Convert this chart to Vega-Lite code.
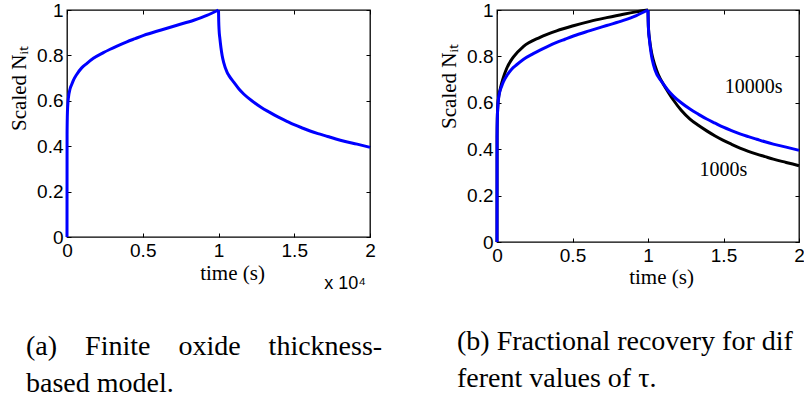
{
  "$schema": "https://vega.github.io/schema/vega-lite/v6.json",
  "padding": {"left": 7, "top": 0, "right": 0, "bottom": 0},
  "bounds": "flush",
  "spacing": 127,
  "background": "white",
  "config": {
    "view": {"stroke": "black", "strokeWidth": 1.3},
    "axis": {
      "grid": false,
      "domain": false,
      "ticks": true,
      "tickSize": -4,
      "tickColor": "black",
      "tickWidth": 1,
      "labelFont": "Liberation Sans",
      "labelFontSize": 19,
      "labelColor": "black",
      "labelFlush": false,
      "labelOverlap": false,
      "titleFont": "Liberation Serif",
      "titleFontSize": 21,
      "titleFontWeight": "normal",
      "titleColor": "black"
    },
    "title": {"font": "Liberation Serif", "fontSize": 28, "fontWeight": "normal", "color": "black"}
  },
  "datasets": {
    "blue": [
      {"t": 0, "v": 0, "phase": "rise"},
      {"t": 0.0005, "v": 0.45, "phase": "rise"},
      {"t": 0.002, "v": 0.53, "phase": "rise"},
      {"t": 0.005, "v": 0.58, "phase": "rise"},
      {"t": 0.009, "v": 0.612, "phase": "rise"},
      {"t": 0.02, "v": 0.652, "phase": "rise"},
      {"t": 0.031, "v": 0.672, "phase": "rise"},
      {"t": 0.042, "v": 0.69, "phase": "rise"},
      {"t": 0.064, "v": 0.716, "phase": "rise"},
      {"t": 0.097, "v": 0.745, "phase": "rise"},
      {"t": 0.13, "v": 0.764, "phase": "rise"},
      {"t": 0.174, "v": 0.787, "phase": "rise"},
      {"t": 0.24, "v": 0.812, "phase": "rise"},
      {"t": 0.285, "v": 0.827, "phase": "rise"},
      {"t": 0.33, "v": 0.841, "phase": "rise"},
      {"t": 0.395, "v": 0.86, "phase": "rise"},
      {"t": 0.45, "v": 0.874, "phase": "rise"},
      {"t": 0.506, "v": 0.888, "phase": "rise"},
      {"t": 0.616, "v": 0.911, "phase": "rise"},
      {"t": 0.726, "v": 0.933, "phase": "rise"},
      {"t": 0.837, "v": 0.955, "phase": "rise"},
      {"t": 0.923, "v": 0.976, "phase": "rise"},
      {"t": 1.0, "v": 1.0, "phase": "rise"},
      {"t": 1.0, "v": 1.0, "phase": "rec"},
      {"t": 1.0015, "v": 0.95, "phase": "rec"},
      {"t": 1.004, "v": 0.91, "phase": "rec"},
      {"t": 1.009, "v": 0.875, "phase": "rec"},
      {"t": 1.016, "v": 0.835, "phase": "rec"},
      {"t": 1.024, "v": 0.8, "phase": "rec"},
      {"t": 1.035, "v": 0.767, "phase": "rec"},
      {"t": 1.057, "v": 0.725, "phase": "rec"},
      {"t": 1.068, "v": 0.712, "phase": "rec"},
      {"t": 1.102, "v": 0.681, "phase": "rec"},
      {"t": 1.135, "v": 0.652, "phase": "rec"},
      {"t": 1.168, "v": 0.629, "phase": "rec"},
      {"t": 1.22, "v": 0.6, "phase": "rec"},
      {"t": 1.278, "v": 0.573, "phase": "rec"},
      {"t": 1.333, "v": 0.551, "phase": "rec"},
      {"t": 1.389, "v": 0.53, "phase": "rec"},
      {"t": 1.445, "v": 0.512, "phase": "rec"},
      {"t": 1.499, "v": 0.495, "phase": "rec"},
      {"t": 1.554, "v": 0.48, "phase": "rec"},
      {"t": 1.609, "v": 0.466, "phase": "rec"},
      {"t": 1.665, "v": 0.454, "phase": "rec"},
      {"t": 1.72, "v": 0.443, "phase": "rec"},
      {"t": 1.775, "v": 0.432, "phase": "rec"},
      {"t": 1.83, "v": 0.422, "phase": "rec"},
      {"t": 1.915, "v": 0.409, "phase": "rec"},
      {"t": 2.0, "v": 0.395, "phase": "rec"}
    ],
    "black": [
      {"t": 0, "v": 0, "phase": "rise"},
      {"t": 0.0005, "v": 0.45, "phase": "rise"},
      {"t": 0.002, "v": 0.53, "phase": "rise"},
      {"t": 0.005, "v": 0.58, "phase": "rise"},
      {"t": 0.009, "v": 0.615, "phase": "rise"},
      {"t": 0.02, "v": 0.655, "phase": "rise"},
      {"t": 0.031, "v": 0.685, "phase": "rise"},
      {"t": 0.045, "v": 0.715, "phase": "rise"},
      {"t": 0.064, "v": 0.748, "phase": "rise"},
      {"t": 0.108, "v": 0.797, "phase": "rise"},
      {"t": 0.174, "v": 0.842, "phase": "rise"},
      {"t": 0.285, "v": 0.882, "phase": "rise"},
      {"t": 0.395, "v": 0.91, "phase": "rise"},
      {"t": 0.506, "v": 0.932, "phase": "rise"},
      {"t": 0.616, "v": 0.951, "phase": "rise"},
      {"t": 0.726, "v": 0.967, "phase": "rise"},
      {"t": 0.837, "v": 0.982, "phase": "rise"},
      {"t": 0.92, "v": 0.992, "phase": "rise"},
      {"t": 1.0, "v": 1.0, "phase": "rise"},
      {"t": 1.0, "v": 1.0, "phase": "rec"},
      {"t": 1.0015, "v": 0.95, "phase": "rec"},
      {"t": 1.004, "v": 0.912, "phase": "rec"},
      {"t": 1.009, "v": 0.88, "phase": "rec"},
      {"t": 1.016, "v": 0.845, "phase": "rec"},
      {"t": 1.024, "v": 0.815, "phase": "rec"},
      {"t": 1.035, "v": 0.785, "phase": "rec"},
      {"t": 1.057, "v": 0.74, "phase": "rec"},
      {"t": 1.068, "v": 0.722, "phase": "rec"},
      {"t": 1.102, "v": 0.68, "phase": "rec"},
      {"t": 1.135, "v": 0.645, "phase": "rec"},
      {"t": 1.168, "v": 0.612, "phase": "rec"},
      {"t": 1.22, "v": 0.568, "phase": "rec"},
      {"t": 1.278, "v": 0.53, "phase": "rec"},
      {"t": 1.333, "v": 0.503, "phase": "rec"},
      {"t": 1.389, "v": 0.479, "phase": "rec"},
      {"t": 1.445, "v": 0.457, "phase": "rec"},
      {"t": 1.499, "v": 0.438, "phase": "rec"},
      {"t": 1.554, "v": 0.421, "phase": "rec"},
      {"t": 1.609, "v": 0.405, "phase": "rec"},
      {"t": 1.665, "v": 0.391, "phase": "rec"},
      {"t": 1.72, "v": 0.379, "phase": "rec"},
      {"t": 1.775, "v": 0.368, "phase": "rec"},
      {"t": 1.83, "v": 0.357, "phase": "rec"},
      {"t": 1.915, "v": 0.343, "phase": "rec"},
      {"t": 2.0, "v": 0.329, "phase": "rec"}
    ],
    "notesA": [
      {"label": "x 10⁴", "t": 1.835, "v": -0.205}
    ],
    "notesB": [
      {"label": "10000s", "t": 1.70, "v": 0.668},
      {"label": "1000s", "t": 1.50, "v": 0.31}
    ]
  },
  "hconcat": [
    {
      "width": 303,
      "height": 227,
      "title": {
        "text": ["(a)\u2003Finite\u2003oxide\u2003thickness-", "based model."],
        "orient": "bottom",
        "anchor": "start",
        "frame": "group",
        "dx": -41,
        "offset": 40,
        "lineHeight": 37
      },
      "layer": [
        {
          "data": {"name": "blue"},
          "mark": {"type": "line", "color": "#0000ff", "strokeWidth": 3, "interpolate": "monotone"},
          "encoding": {
            "x": {"field": "t", "type": "quantitative", "scale": {"domain": [0, 2], "nice": false, "zero": false},
                  "axis": {"orient": "bottom", "values": [0, 0.5, 1, 1.5, 2], "format": "~g", "title": "time (s)", "labelPadding": 8, "titleX": 165, "titleY": 42, "titleBaseline": "alphabetic"}},
            "y": {"field": "v", "type": "quantitative", "scale": {"domain": [0, 1], "nice": false},
                  "axis": {"orient": "left", "values": [0, 0.2, 0.4, 0.6, 0.8, 1], "format": "~g", "title": "Scaled Nᵢₜ", "labelPadding": 8, "titleX": -42, "titleY": 78, "titleBaseline": "alphabetic", "titleAngle": 270}},
            "detail": {"field": "phase"}
          }
        },
        {
          "data": {"name": "blue"},
          "mark": {"type": "line", "opacity": 0},
          "encoding": {
            "x": {"field": "t", "type": "quantitative", "scale": {"domain": [0, 2], "nice": false, "zero": false},
                  "axis": {"orient": "top", "values": [0, 0.5, 1, 1.5, 2], "labels": false, "title": null}},
            "y": {"field": "v", "type": "quantitative", "scale": {"domain": [0, 1], "nice": false},
                  "axis": {"orient": "right", "values": [0, 0.2, 0.4, 0.6, 0.8, 1], "labels": false, "title": null}},
            "detail": {"field": "phase"}
          }
        },
        {
          "data": {"name": "notesA"},
          "mark": {"type": "text", "font": "Liberation Sans", "fontSize": 18, "color": "black", "align": "center", "baseline": "middle"},
          "encoding": {
            "x": {"field": "t", "type": "quantitative", "axis": null},
            "y": {"field": "v", "type": "quantitative", "axis": null},
            "text": {"field": "label"}
          }
        }
      ],
      "resolve": {"axis": {"x": "independent", "y": "independent"}}
    },
    {
      "width": 302,
      "height": 232,
      "title": {
        "text": ["(b) Fractional recovery for dif", "ferent values of τ."],
        "orient": "bottom",
        "anchor": "start",
        "frame": "group",
        "dx": -40,
        "offset": 41,
        "lineHeight": 37
      },
      "layer": [
        {
          "data": {"name": "black"},
          "mark": {"type": "line", "color": "#000000", "strokeWidth": 3, "interpolate": "monotone"},
          "encoding": {
            "x": {"field": "t", "type": "quantitative", "scale": {"domain": [0, 2], "nice": false, "zero": false},
                  "axis": {"orient": "bottom", "values": [0, 0.5, 1, 1.5, 2], "format": "~g", "title": "time (s)", "labelPadding": 8, "titleX": 164, "titleY": 41, "titleBaseline": "alphabetic"}},
            "y": {"field": "v", "type": "quantitative", "scale": {"domain": [0, 1], "nice": false},
                  "axis": {"orient": "left", "values": [0, 0.2, 0.4, 0.6, 0.8, 1], "format": "~g", "title": "Scaled Nᵢₜ", "labelPadding": 8, "titleX": -42, "titleY": 76, "titleBaseline": "alphabetic", "titleAngle": 270}},
            "detail": {"field": "phase"}
          }
        },
        {
          "data": {"name": "blue"},
          "mark": {"type": "line", "color": "#0000ff", "strokeWidth": 3, "interpolate": "monotone"},
          "encoding": {
            "x": {"field": "t", "type": "quantitative", "scale": {"domain": [0, 2], "nice": false, "zero": false}, "axis": null},
            "y": {"field": "v", "type": "quantitative", "scale": {"domain": [0, 1], "nice": false}, "axis": null},
            "detail": {"field": "phase"}
          }
        },
        {
          "data": {"name": "blue"},
          "mark": {"type": "line", "opacity": 0},
          "encoding": {
            "x": {"field": "t", "type": "quantitative", "scale": {"domain": [0, 2], "nice": false, "zero": false},
                  "axis": {"orient": "top", "values": [0, 0.5, 1, 1.5, 2], "labels": false, "title": null}},
            "y": {"field": "v", "type": "quantitative", "scale": {"domain": [0, 1], "nice": false},
                  "axis": {"orient": "right", "values": [0, 0.2, 0.4, 0.6, 0.8, 1], "labels": false, "title": null}},
            "detail": {"field": "phase"}
          }
        },
        {
          "data": {"name": "notesB"},
          "mark": {"type": "text", "font": "Liberation Serif", "fontSize": 20, "color": "black", "align": "center", "baseline": "middle"},
          "encoding": {
            "x": {"field": "t", "type": "quantitative", "axis": null},
            "y": {"field": "v", "type": "quantitative", "axis": null},
            "text": {"field": "label"}
          }
        }
      ],
      "resolve": {"axis": {"x": "independent", "y": "independent"}}
    }
  ]
}
